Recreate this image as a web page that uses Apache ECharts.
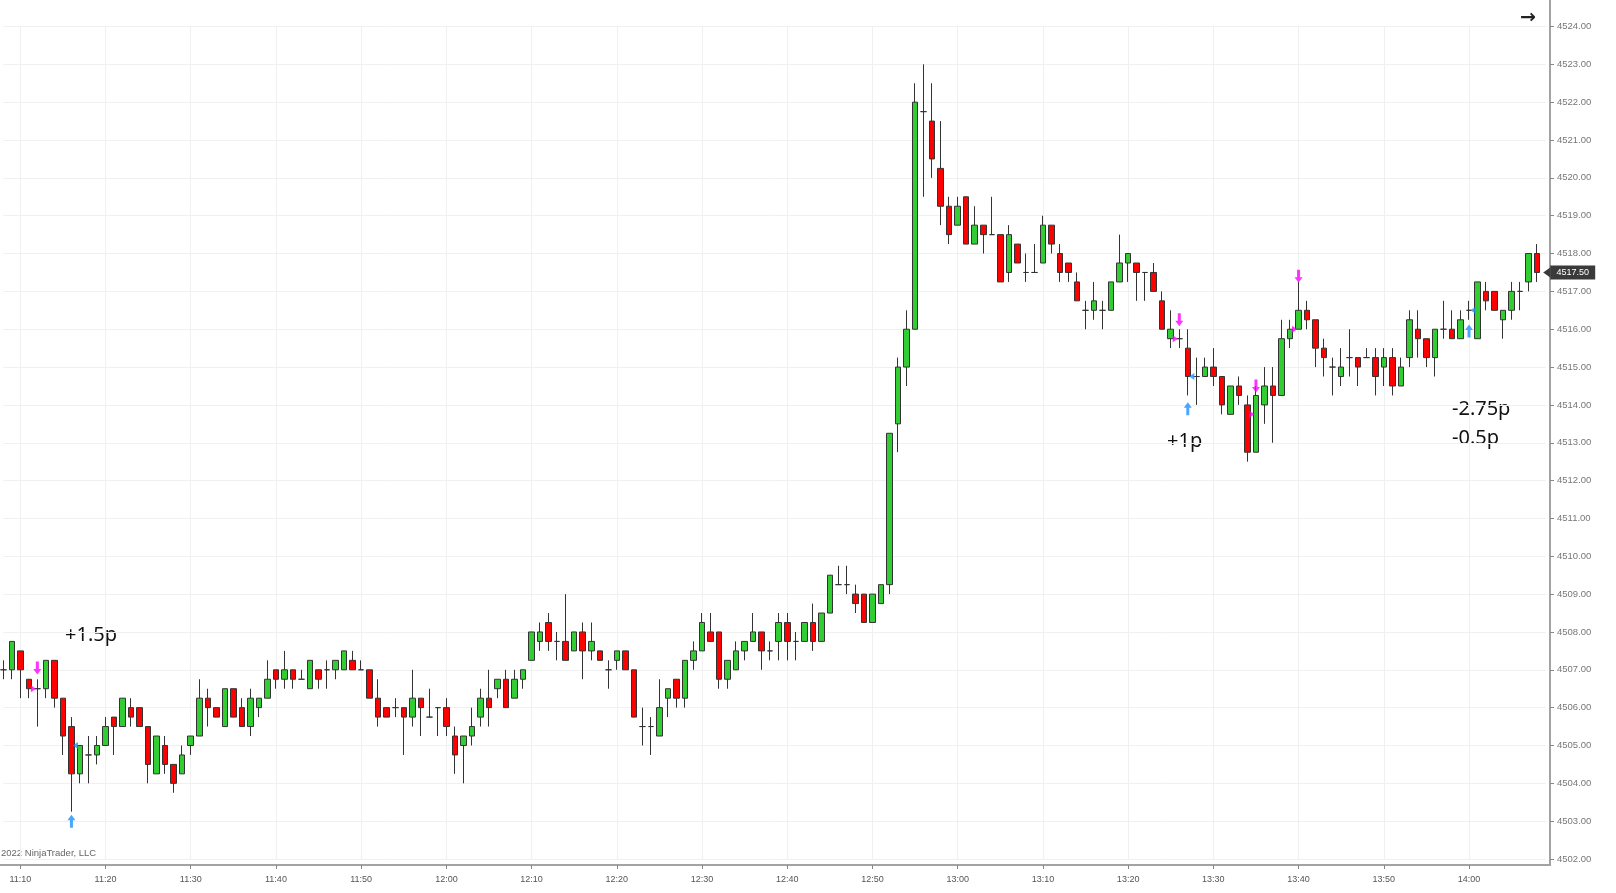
<!DOCTYPE html>
<html>
<head>
<meta charset="utf-8">
<title>ES 1 Minute</title>
<script src="https://cdn.jsdelivr.net/npm/echarts@6/dist/echarts.min.js"></script>
<style>
    html, body { margin: 0; padding: 0; background: #fff; }
    #chart { width: 1616px; height: 893px; }
</style>
</head>
<body>
<div id="chart"></div>
<script>
// one bar per minute, 11:08 .. 14:08 (+ one empty slot at the right edge)
const times = [];
for (let m = 11 * 60 + 8; m <= 14 * 60 + 9; m++) {
    times.push(Math.floor(m / 60) + ':' + String(m % 60).padStart(2, '0'));
}

const opens = [
    4507, 4507, 4507.5, 4506.75, 4506.5, 4506.5, 4507.25, 4506.25, 4505.5, 4504.25, 4504.75, 4504.75,
    4505, 4505.75, 4505.5, 4506, 4506, 4505.5, 4504.25, 4505, 4504.5, 4504.25, 4505, 4505.25,
    4506.25, 4506, 4505.5, 4506.5, 4506, 4505.5, 4506, 4506.25, 4507, 4506.75, 4507, 4506.75,
    4506.5, 4507, 4507, 4507, 4507, 4507.25, 4507, 4507, 4506.25, 4506, 4506, 4506,
    4505.75, 4506.25, 4505.75, 4506, 4506, 4505.25, 4505, 4505.25, 4505.75, 4506.25, 4506.5, 4506.75,
    4506.25, 4506.75, 4507.25, 4507.75, 4508.25, 4507.75, 4507.75, 4507.5, 4508, 4507.5, 4507.5, 4507,
    4507.25, 4507.5, 4507, 4505.5, 4505.5, 4505.25, 4506.25, 4506.75, 4506.25, 4507.25, 4507.5, 4508,
    4508, 4506.75, 4507, 4507.5, 4507.75, 4508, 4507.5, 4507.75, 4508.25, 4507.75, 4507.75, 4508.25,
    4507.75, 4508.5, 4509.25, 4509.25, 4509, 4509, 4508.25, 4508.75, 4509.25, 4513.5, 4515, 4516,
    4521.75, 4521.5, 4520.25, 4519.25, 4518.75, 4519.5, 4518.25, 4518.75, 4518.5, 4518.5, 4517.5, 4518.25,
    4517.5, 4517.5, 4517.75, 4518.75, 4518, 4517.75, 4517.25, 4516.5, 4516.5, 4516.5, 4516.5, 4517.25,
    4517.75, 4517.75, 4517.5, 4517.5, 4516.75, 4515.75, 4515.75, 4515.5, 4514.75, 4514.75, 4515, 4514.75,
    4513.75, 4514.5, 4514, 4512.75, 4514, 4514.5, 4514.25, 4515.75, 4516, 4516.5, 4516.25, 4515.5,
    4515, 4514.75, 4515.25, 4515.25, 4515.25, 4515.25, 4515, 4515.25, 4514.5, 4515.25, 4516, 4515.75,
    4515.25, 4516, 4516, 4515.75, 4516.5, 4515.75, 4517, 4517, 4516.25, 4516.5, 4517, 4517.25,
    4518
];
const closes = [
    4507, 4507.75, 4507, 4506.5, 4506.5, 4507.25, 4506.25, 4505.25, 4504.25, 4505, 4504.75, 4505,
    4505.5, 4505.5, 4506.25, 4505.75, 4505.5, 4504.5, 4505.25, 4504.5, 4504, 4504.75, 4505.25, 4506.25,
    4506, 4505.75, 4506.5, 4505.75, 4505.5, 4506.25, 4506.25, 4506.75, 4506.75, 4507, 4506.75, 4506.75,
    4507.25, 4506.75, 4507, 4507.25, 4507.5, 4507, 4507, 4506.25, 4505.75, 4505.75, 4506, 4505.75,
    4506.25, 4506, 4505.75, 4506, 4505.5, 4504.75, 4505.25, 4505.5, 4506.25, 4506, 4506.75, 4506,
    4506.75, 4507, 4508, 4508, 4507.75, 4507.75, 4507.25, 4508, 4507.5, 4507.75, 4507.25, 4507,
    4507.5, 4507, 4505.75, 4505.5, 4505.5, 4506, 4506.5, 4506.25, 4507.25, 4507.5, 4508.25, 4507.75,
    4506.75, 4507.25, 4507.5, 4507.75, 4508, 4507.5, 4507.5, 4508.25, 4507.75, 4507.75, 4508.25, 4507.75,
    4508.5, 4509.5, 4509.25, 4509.25, 4508.75, 4508.25, 4509, 4509.25, 4513.25, 4515, 4516, 4522,
    4521.75, 4520.5, 4519.25, 4518.5, 4519.25, 4518.25, 4518.75, 4518.5, 4518.5, 4517.25, 4518.5, 4517.75,
    4517.5, 4517.5, 4518.75, 4518.25, 4517.5, 4517.5, 4516.75, 4516.5, 4516.75, 4516.5, 4517.25, 4517.75,
    4518, 4517.5, 4517.5, 4517, 4516, 4516, 4515.75, 4514.75, 4514.75, 4515, 4514.75, 4514,
    4514.5, 4514.25, 4512.75, 4514.25, 4514.5, 4514.25, 4515.75, 4516, 4516.5, 4516.25, 4515.5, 4515.25,
    4515, 4515, 4515.25, 4515, 4515.25, 4514.75, 4515.25, 4514.5, 4515, 4516.25, 4515.75, 4515.25,
    4516, 4516, 4515.75, 4516.25, 4516.5, 4517.25, 4516.75, 4516.5, 4516.5, 4517, 4517, 4518,
    4517.5
];
const lows = [
    4506.75, 4506.75, 4506.25, 4506.25, 4505.5, 4506.25, 4506, 4504.75, 4503.25, 4504, 4504, 4504.5,
    4505, 4504.75, 4505.5, 4505.5, 4505.5, 4504, 4504.25, 4504.25, 4503.75, 4504.25, 4504.75, 4505.25,
    4505.5, 4505.75, 4505.5, 4505.75, 4505.5, 4505.25, 4505.75, 4506.25, 4506.5, 4506.5, 4506.5, 4506.75,
    4506.5, 4506.5, 4506.5, 4506.75, 4507, 4507, 4507, 4506.25, 4505.5, 4505.75, 4505.75, 4504.75,
    4505.5, 4505.25, 4505.75, 4505.25, 4505.25, 4504.25, 4504, 4505, 4505.5, 4505.5, 4506.25, 4506,
    4506.25, 4506.5, 4507.25, 4507.5, 4507.5, 4507.25, 4507.25, 4507.5, 4506.75, 4507.25, 4507.25, 4506.5,
    4507, 4507, 4505.75, 4505, 4504.75, 4505.25, 4505.75, 4506, 4506, 4507, 4507.5, 4507.75,
    4506.5, 4506.5, 4507, 4507.25, 4507.75, 4507, 4507.25, 4507.25, 4507.25, 4507.25, 4507.75, 4507.5,
    4507.75, 4508.5, 4509.25, 4509, 4508.5, 4508.25, 4508.25, 4508.75, 4509, 4512.75, 4514.5, 4516,
    4519.5, 4520, 4518.75, 4518.25, 4518.75, 4518.25, 4518.25, 4518, 4518.5, 4517.25, 4517.25, 4517.75,
    4517.25, 4517.5, 4517.75, 4518, 4517.25, 4517.25, 4516.75, 4516, 4516.25, 4516, 4516.5, 4517.25,
    4517.25, 4516.75, 4516.75, 4517, 4516, 4515.5, 4515.5, 4514.25, 4514, 4514.75, 4514.5, 4513.75,
    4513.75, 4514, 4512.5, 4512.75, 4513.5, 4513, 4514.25, 4515.5, 4516, 4516, 4515, 4514.75,
    4514.25, 4514.5, 4514.75, 4514.5, 4515.25, 4514.25, 4514.5, 4514.25, 4514.5, 4515, 4515.25, 4515,
    4514.75, 4515.75, 4515.75, 4515.75, 4516.25, 4515.75, 4516.5, 4516.5, 4515.75, 4516.25, 4516.5, 4517,
    4517.25
];
const highs = [
    4507.25, 4507.75, 4507.5, 4506.75, 4506.75, 4507.25, 4507.25, 4506.25, 4505.75, 4505, 4505.25, 4505.25,
    4505.75, 4505.75, 4506.25, 4506.25, 4506, 4505.5, 4505.25, 4505.25, 4504.5, 4505, 4505.25, 4506.75,
    4506.5, 4506, 4506.5, 4506.5, 4506.25, 4506.5, 4506.25, 4507.25, 4507, 4507.5, 4507, 4507,
    4507.25, 4507, 4507.25, 4507.25, 4507.5, 4507.5, 4507.25, 4507, 4506.75, 4506, 4506.25, 4506,
    4507, 4506.25, 4506.5, 4506, 4506.25, 4505.5, 4505.25, 4506, 4506.5, 4507, 4506.75, 4507,
    4507, 4507, 4508, 4508.25, 4508.5, 4508, 4509, 4508, 4508.25, 4508.25, 4507.5, 4507.25,
    4507.5, 4507.5, 4507, 4506, 4505.75, 4506.75, 4506.5, 4506.75, 4507.25, 4507.75, 4508.5, 4508.5,
    4508, 4507.25, 4507.75, 4507.75, 4508.5, 4508, 4507.75, 4508.5, 4508.5, 4508, 4508.25, 4508.75,
    4508.5, 4509.5, 4509.75, 4509.75, 4509.25, 4509, 4509, 4509.25, 4513.25, 4515.25, 4516.5, 4522.5,
    4523, 4522.5, 4521.5, 4519.5, 4519.5, 4519.5, 4519.25, 4518.75, 4519.5, 4518.5, 4518.75, 4518.25,
    4518, 4518.25, 4519, 4518.75, 4518.25, 4517.75, 4517.5, 4516.75, 4517.25, 4516.75, 4517.25, 4518.5,
    4518, 4517.75, 4517.5, 4517.75, 4517, 4516.5, 4516, 4516, 4515.25, 4515.25, 4515.5, 4514.75,
    4514.5, 4514.75, 4514.25, 4514.5, 4515, 4515, 4516.25, 4516.25, 4517.25, 4516.75, 4516.25, 4515.75,
    4515.25, 4515.5, 4516, 4515.25, 4515.5, 4515.5, 4515.5, 4515.5, 4515.25, 4516.5, 4516.5, 4515.75,
    4516, 4516.75, 4516.5, 4516.5, 4516.75, 4517.25, 4517.25, 4517, 4516.5, 4517.25, 4517.25, 4518,
    4518.25
];

// trade markers: [bar index, price]
const sellSignals = [[4, 4507.05], [138, 4516.25], [147, 4514.5], [152, 4517.4]];
const sellFills = [[4, 4506.5], [138, 4515.75], [147, 4513.75], [152, 4516]];
const buySignals = [[8, 4503], [139, 4513.9], [172, 4515.95]];
const buyFills = [[8, 4505], [139, 4514.75], [172, 4516.5]];

const candles = opens.map((o, i) => [o, closes[i], lows[i], highs[i]]);
const lastClose = closes[closes.length - 1];
const toPoints = arr => arr.map(([i, v]) => [times[i], v]);
const tenMin = (i, v) => v.slice(-1) === '0';

const upArrow = 'path://M4,0 L8,5.5 L5.5,5.5 L5.5,13 L2.5,13 L2.5,5.5 L0,5.5 Z';
const downArrow = 'path://M4,13 L8,7.5 L5.5,7.5 L5.5,0 L2.5,0 L2.5,7.5 L0,7.5 Z';

const chart = echarts.init(document.getElementById('chart'));

const textFont = { fontFamily: '"Noto Sans"', fontSize: 20, fill: '#111', verticalAlign: 'middle' };

const option = {
    animation: false,
    backgroundColor: '#ffffff',
    grid: { left: 3.26, right: 70.3, top: 26.5, bottom: 34 },
    xAxis: {
        type: 'category',
        data: times,
        boundaryGap: false,
        offset: 6,
        axisLine: { show: false },
        axisTick: { show: true, length: 4, interval: tenMin, lineStyle: { color: '#888' } },
        axisLabel: { interval: tenMin, margin: 10, fontSize: 9, color: '#555', fontFamily: 'Liberation Sans' },
        splitLine: { show: true, interval: tenMin, lineStyle: { color: '#f0f0f0', width: 1 } }
    },
    yAxis: {
        type: 'value',
        position: 'right',
        min: 4502,
        max: 4524,
        interval: 1,
        offset: 4.3,
        axisLine: { show: false },
        axisTick: { show: true, length: 4, lineStyle: { color: '#888' } },
        axisLabel: {
            margin: 7, fontSize: 9.5, color: '#777', fontFamily: 'Liberation Sans',
            formatter: v => v.toFixed(2)
        },
        splitLine: { show: true, lineStyle: { color: '#f0f0f0', width: 1 } }
    },
    series: [
        {
            type: 'candlestick',
            data: candles,
            barWidth: 6,
            clip: false,
            itemStyle: {
                color: '#32cd32',
                color0: '#ff0000',
                borderColor: '#333',
                borderColor0: '#333',
                borderColorDoji: '#333',
                borderWidth: 1
            },
            markPoint: {
                silent: true,
                data: [
                    // left-pointing tip of the last price tag
                    {
                        coord: [times[times.length - 1], lastClose],
                        symbol: 'triangle', symbolSize: [10, 7], symbolRotate: 90, symbolOffset: [1, 0],
                        itemStyle: { color: '#3a3a3a' },
                        label: { show: false }
                    },
                    // last price tag
                    {
                        coord: [times[times.length - 1], lastClose],
                        symbol: 'rect', symbolSize: [45, 14], symbolOffset: [27, 0],
                        itemStyle: { color: '#3a3a3a' },
                        label: {
                            show: true, position: 'inside',
                            formatter: () => lastClose.toFixed(2),
                            color: '#fff', fontSize: 9, fontFamily: 'Liberation Sans'
                        }
                    }
                ]
            }
        },
        {
            type: 'scatter', z: 5, data: toPoints(sellSignals),
            symbol: downArrow, symbolSize: [8, 13],
            itemStyle: { color: '#ff00ff' }
        },
        {
            type: 'scatter', z: 5, data: toPoints(sellFills),
            symbol: 'triangle', symbolSize: [7, 5], symbolRotate: -90, symbolOffset: [-4, 0],
            itemStyle: { color: '#ff00ff' }
        },
        {
            type: 'scatter', z: 5, data: toPoints(buySignals),
            symbol: upArrow, symbolSize: [8, 13],
            itemStyle: { color: '#1e90ff' }
        },
        {
            type: 'scatter', z: 5, data: toPoints(buyFills),
            symbol: 'triangle', symbolSize: [7, 5], symbolRotate: 90, symbolOffset: [4, 0],
            itemStyle: { color: '#1e90ff' }
        }
    ],
    graphic: [
        // axis frame lines
        { type: 'line', silent: true, shape: { x1: 0, y1: 865, x2: 1550, y2: 865 }, style: { stroke: '#a3a3a3', lineWidth: 2 } },
        { type: 'line', silent: true, shape: { x1: 1550, y1: 0, x2: 1550, y2: 866 }, style: { stroke: '#a3a3a3', lineWidth: 2 } },
        // trade results
        { type: 'text', silent: true, x: 65, y: 635, style: Object.assign({ text: '+1.5p' }, textFont) },
        { type: 'text', silent: true, x: 1167, y: 441, style: Object.assign({ text: '+1p' }, textFont) },
        { type: 'text', silent: true, x: 1452, y: 409, style: Object.assign({ text: '-2.75p' }, textFont) },
        { type: 'text', silent: true, x: 1452, y: 438, style: Object.assign({ text: '-0.5p' }, textFont) },
        {
            type: 'text', silent: true, x: 1, y: 853,
            style: { text: '2022 NinjaTrader, LLC', fontFamily: 'Liberation Sans', fontSize: 9.5, fill: '#666', verticalAlign: 'middle' }
        },
        {
            type: 'text', silent: true, x: 1528, y: 18,
            style: { text: '→', fontFamily: 'DejaVu Sans', fontSize: 19, fontWeight: 'bold', fill: '#222', align: 'center', verticalAlign: 'middle' }
        }
    ]
};

chart.setOption(option);
</script>
</body>
</html>
